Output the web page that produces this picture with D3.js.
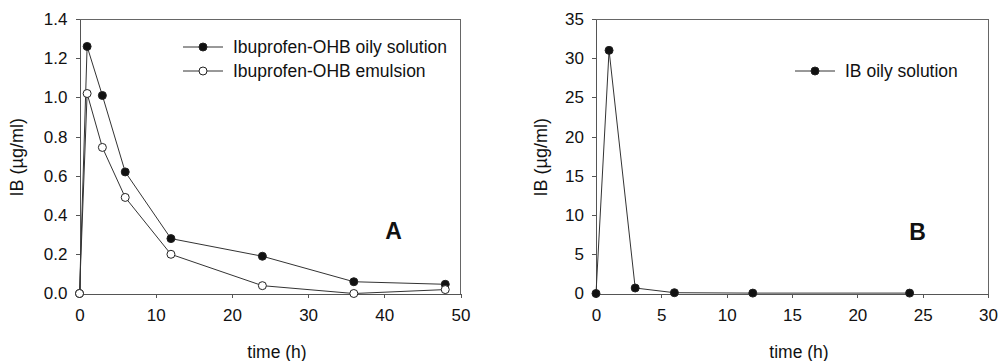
<!DOCTYPE html>
<html>
<head>
<meta charset="utf-8">
<script src="https://cdn.jsdelivr.net/npm/d3@7"></script>
<style>
  body { margin: 0; background: #fff; }
  svg { font-family: "Liberation Sans", Arial, sans-serif; }
  .axis path, .axis line { stroke: #555; shape-rendering: crispEdges; }
  .axis text { font-size: 17px; fill: #111; font-family: "Liberation Sans", Arial, sans-serif; }
</style>
</head>
<body>
<div id="chart"></div>
<script>
var timeA = [0, 1, 3, 6, 12, 24, 36, 48],
    oilyA = [0, 1.26, 1.01, 0.62, 0.28, 0.19, 0.06, 0.047],
    emulsionA = [0, 1.02, 0.745, 0.49, 0.20, 0.04, 0.0, 0.02];

var timeB = [0, 1, 3, 6, 12, 24],
    oilyB = [0, 31, 0.7, 0.1, 0.05, 0.05];

var ticksAx = [0, 10, 20, 30, 40, 50],
    ticksAy = [0, 0.2, 0.4, 0.6, 0.8, 1.0, 1.2, 1.4],
    ticksBx = [0, 5, 10, 15, 20, 25, 30],
    ticksBy = [0, 5, 10, 15, 20, 25, 30, 35];

var svg = d3.select("#chart").append("svg")
    .attr("width", 998)
    .attr("height", 361);

function panel(opts) {
  var x = d3.scaleLinear().domain(opts.xDomain).range([opts.left, opts.right]);
  var y = d3.scaleLinear().domain(opts.yDomain).range([opts.bottom, opts.top]);
  var g = svg.append("g");

  // frame: top and right borders
  g.append("path")
      .attr("d", "M" + opts.left + "," + opts.top + "H" + opts.right + "V" + opts.bottom)
      .attr("fill", "none")
      .attr("stroke", "#666")
      .attr("shape-rendering", "crispEdges");

  g.append("g")
      .attr("class", "axis")
      .attr("transform", "translate(0," + opts.bottom + ")")
      .call(d3.axisBottom(x).tickValues(opts.xTicks).tickSizeInner(4).tickSizeOuter(0).tickPadding(11).tickFormat(d3.format("d")));

  g.append("g")
      .attr("class", "axis")
      .attr("transform", "translate(" + opts.left + ",0)")
      .call(d3.axisLeft(y).tickValues(opts.yTicks).tickSizeInner(4).tickSizeOuter(0).tickPadding(8).tickFormat(opts.yFormat));

  g.append("text")
      .attr("x", (opts.left + opts.right) / 2 + 7)
      .attr("y", 358)
      .attr("text-anchor", "middle")
      .attr("font-size", "17.5px")
      .attr("fill", "#111")
      .text("time (h)");

  g.append("text")
      .attr("transform", "translate(" + opts.yLabelX + "," + ((opts.top + opts.bottom) / 2 + 1) + ") rotate(-90)")
      .attr("text-anchor", "middle")
      .attr("font-size", "18px")
      .attr("fill", "#111")
      .text("IB (µg/ml)");

  g.append("text")
      .attr("x", x(opts.letterX))
      .attr("y", y(opts.letterY))
      .attr("text-anchor", "middle")
      .attr("dominant-baseline", "central")
      .attr("font-size", "23px")
      .attr("font-weight", "bold")
      .attr("fill", "#111")
      .text(opts.letter);

  var line = d3.line()
      .x(function(d) { return x(d[0]); })
      .y(function(d) { return y(d[1]); });

  opts.series.forEach(function(s) {
    var pts = opts.time.map(function(t, i) { return [t, s.values[i]]; });
    g.append("path")
        .datum(pts)
        .attr("fill", "none")
        .attr("stroke", "#333")
        .attr("stroke-width", 1)
        .attr("d", line);
    g.selectAll(null)
        .data(pts)
      .enter().append("circle")
        .attr("cx", function(d) { return x(d[0]); })
        .attr("cy", function(d) { return y(d[1]); })
        .attr("r", 4)
        .attr("fill", s.filled ? "#111" : "#fff")
        .attr("stroke", "#222")
        .attr("stroke-width", 1);
  });

  // legend
  opts.series.forEach(function(s, i) {
    var ly = opts.legendY + i * 24;
    g.append("line")
        .attr("x1", opts.legendX).attr("x2", opts.legendX + 40)
        .attr("y1", ly).attr("y2", ly)
        .attr("stroke", "#333");
    g.append("circle")
        .attr("cx", opts.legendX + 20).attr("cy", ly).attr("r", 4)
        .attr("fill", s.filled ? "#111" : "#fff")
        .attr("stroke", "#222");
    g.append("text")
        .attr("x", opts.legendX + 50).attr("y", ly)
        .attr("dominant-baseline", "central")
        .attr("font-size", "17.5px")
        .attr("fill", "#111")
        .text(s.name);
  });
}

panel({
  left: 79.5, right: 460.5, top: 19, bottom: 293.5,
  xDomain: [0, 50], yDomain: [0, 1.4],
  xTicks: ticksAx, yTicks: ticksAy, yFormat: d3.format(".1f"),
  yLabelX: 23, letter: "A", letterX: 41.2, letterY: 0.32,
  time: timeA,
  legendX: 183, legendY: 47,
  series: [
    {name: "Ibuprofen-OHB oily solution", values: oilyA, filled: true},
    {name: "Ibuprofen-OHB emulsion", values: emulsionA, filled: false}
  ]
});

panel({
  left: 596, right: 988, top: 19, bottom: 293.5,
  xDomain: [0, 30], yDomain: [0, 35],
  xTicks: ticksBx, yTicks: ticksBy, yFormat: d3.format("d"),
  yLabelX: 547, letter: "B", letterX: 24.6, letterY: 7.84,
  time: timeB,
  legendX: 795, legendY: 71,
  series: [
    {name: "IB oily solution", values: oilyB, filled: true}
  ]
});
</script>
</body>
</html>
